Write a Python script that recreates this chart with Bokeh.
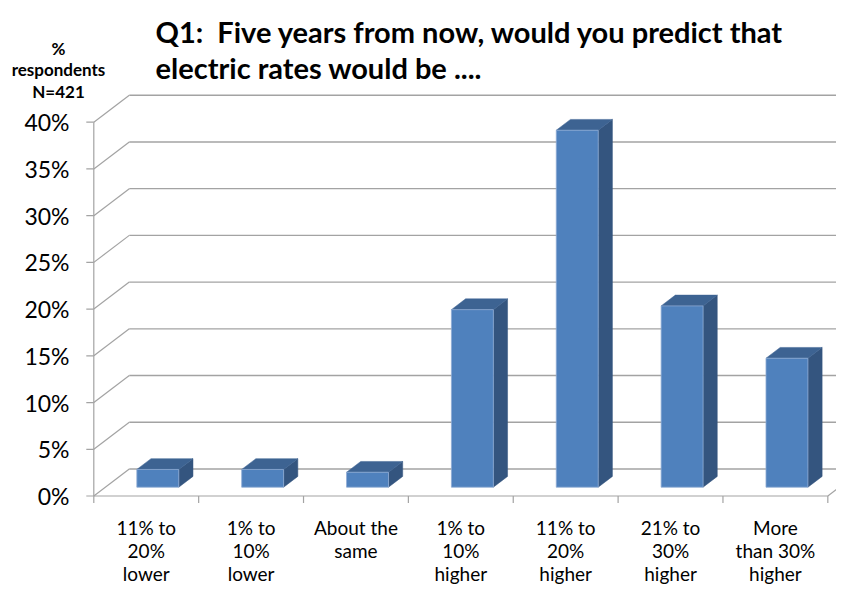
from bokeh.plotting import figure
from bokeh.models import Range1d
from bokeh.core.properties import value
from bokeh.embed import file_html
from bokeh.resources import INLINE

# ---------------- data ----------------
categories = ["11% to\n20%\nlower", "1% to\n10%\nlower", "About the\nsame",
              "1% to\n10%\nhigher", "11% to\n20%\nhigher", "21% to\n30%\nhigher",
              "More\nthan 30%\nhigher"]
percent = [1.9, 1.9, 1.6, 19.0, 38.2, 19.4, 13.8]
y_ticks = [0, 5, 10, 15, 20, 25, 30, 35, 40]
y_tick_labels = ["0%", "5%", "10%", "15%", "20%", "25%", "30%", "35%", "40%"]
title_lines = ["Q1:\u00a0 Five years from now, would you predict that",
               "electric rates would be ...."]
side_note = ["%", "respondents", "N=421"]

# ---------------- layout (pixels of the picture) ----------------
W, H = 836, 585
ORIGIN_X, ORIGIN_Y = 93.3, 495.5      # front-left-bottom corner
PX_PER_CAT = 104.86
PX_PER_PCT = 9.345
DEPTH_X = 35.5 / PX_PER_CAT           # oblique depth shift (category units)
DEPTH_Y = 27.0 / PX_PER_PCT           # oblique depth shift (percent units)
BAR_W = 0.40
F1, F2 = 0.326, 0.726                 # bar front / back depth fractions


def X(px):
    return (px - ORIGIN_X) / PX_PER_CAT


def Y(py):
    return (ORIGIN_Y - py) / PX_PER_PCT


x0 = X(0)
y0 = Y(H)
p = figure(width=W, height=H, output_backend="svg", toolbar_location=None,
           x_range=Range1d(x0, x0 + W / PX_PER_CAT),
           y_range=Range1d(y0, y0 + H / PX_PER_PCT),
           x_axis_location=None, y_axis_location=None,
           min_border=0, min_border_left=0, min_border_right=0,
           min_border_top=0, min_border_bottom=0)
p.grid.visible = False
p.outline_line_color = None
p.background_fill_color = "white"
p.border_fill_color = "white"

GRID = "#A3A3A3"
n = len(categories)

# back wall gridlines
p.segment(x0=[DEPTH_X] * len(y_ticks), y0=[v + DEPTH_Y for v in y_ticks],
          x1=[n + DEPTH_X] * len(y_ticks), y1=[v + DEPTH_Y for v in y_ticks],
          line_color=GRID, line_width=1.4)
# left wall diagonals
p.segment(x0=[0] * len(y_ticks), y0=y_ticks,
          x1=[DEPTH_X] * len(y_ticks), y1=[v + DEPTH_Y for v in y_ticks],
          line_color=GRID, line_width=1.2)
# vertical axis line and its ticks
p.segment(x0=[0], y0=[0], x1=[0], y1=[max(y_ticks)], line_color=GRID, line_width=1.2)
tick_len = 7.5 / PX_PER_CAT
p.segment(x0=[-tick_len] * len(y_ticks), y0=y_ticks, x1=[0] * len(y_ticks), y1=y_ticks,
          line_color=GRID, line_width=1.2)
# floor front edge, right edge, category ticks
p.segment(x0=[0, n], y0=[0, 0], x1=[n, n + DEPTH_X], y1=[0, DEPTH_Y],
          line_color=GRID, line_width=1.2)
down = 7.0 / PX_PER_PCT
p.segment(x0=list(range(n + 1)), y0=[0] * (n + 1), x1=list(range(n + 1)),
          y1=[-down] * (n + 1), line_color=GRID, line_width=1.2)

# bars
front_xs, front_ys, side_xs, side_ys, top_xs, top_ys = [], [], [], [], [], []
for i, v in enumerate(percent):
    c = i + 0.5
    xl1 = c - BAR_W / 2 + F1 * DEPTH_X
    xr1 = c + BAR_W / 2 + F1 * DEPTH_X
    xl2 = c - BAR_W / 2 + F2 * DEPTH_X
    xr2 = c + BAR_W / 2 + F2 * DEPTH_X
    b1, b2 = F1 * DEPTH_Y, F2 * DEPTH_Y
    t1, t2 = b1 + v, b2 + v
    front_xs.append([xl1, xr1, xr1, xl1]); front_ys.append([b1, b1, t1, t1])
    side_xs.append([xr1, xr2, xr2, xr1]); side_ys.append([b1, b2, t2, t1])
    top_xs.append([xl1, xr1, xr2, xl2]); top_ys.append([t1, t1, t2, t2])

p.patches(xs=side_xs, ys=side_ys, fill_color="#34557F", line_color="#34557F", line_width=0.5)
p.patches(xs=top_xs, ys=top_ys, fill_color="#3D6392", line_color="#3D6392", line_width=0.5)
p.patches(xs=front_xs, ys=front_ys, fill_color="#4F81BD", line_color="#8EABD4", line_width=0.8)

FONT = value("Lato")

# y tick labels
p.text(x=[X(69)] * len(y_ticks), y=y_ticks, text=y_tick_labels, text_font=FONT,
       text_font_size="23px", text_align="right", text_baseline="middle",
       text_color="black")

# category labels (multi-line, one text per line)
baselines = [527, 550, 573]
lx, ly, lt = [], [], []
for i, lab in enumerate(categories):
    for j, line in enumerate(lab.split("\n")):
        lx.append(i + 0.5); ly.append(Y(baselines[j])); lt.append(line)
p.text(x=lx, y=ly, text=lt, text_font=FONT, text_font_size="19px",
       text_align="center", text_baseline="alphabetic", text_color="black")

# title
p.text(x=[X(155)] * 2, y=[Y(31), Y(67)], text=title_lines, text_font=FONT,
       text_font_size="29px", text_font_style="bold", text_align="left",
       text_baseline="alphabetic", text_color="black")

# side note
p.text(x=[X(58)] * 3, y=[Y(48), Y(69), Y(91)], text=side_note, text_font=FONT,
       text_font_size="17px", text_font_style="bold", text_align="center",
       text_baseline="alphabetic", text_color="black")

open("out.html", "w").write(file_html(p, INLINE))
